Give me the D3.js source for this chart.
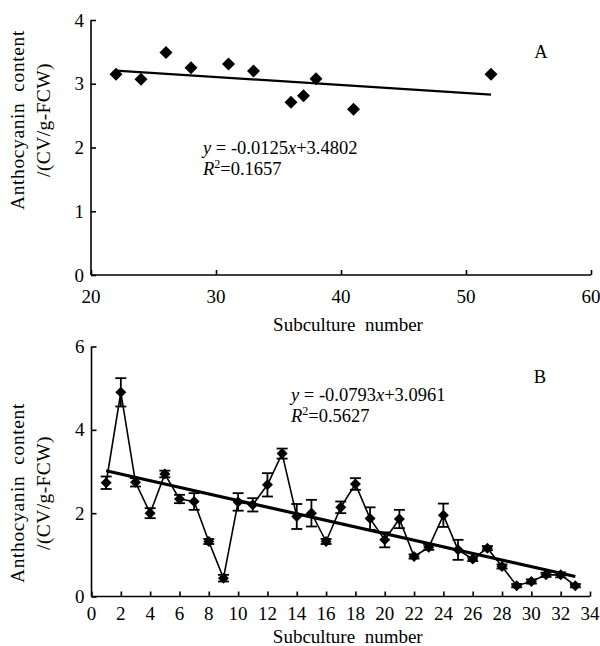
<!DOCTYPE html>
<html>
<head>
<meta charset="utf-8">
<script src="https://cdn.jsdelivr.net/npm/d3@7"></script>
<style>
  body { margin: 0; background: #fff; }
  svg text { font-family: "Liberation Serif", "Times New Roman", serif; fill: #000; }
</style>
</head>
<body>
<svg id="chart" width="600" height="646"></svg>
<script>
// panel A
var subA = [22, 24, 26, 28, 31, 33, 36, 37, 38, 41, 52];
var antA = [3.15, 3.07, 3.49, 3.25, 3.31, 3.20, 2.71, 2.81, 3.08, 2.60, 3.15];
var ticksAx = [20, 30, 40, 50, 60];
var ticksAy = [0, 1, 2, 3, 4];
var fitA = {slope: -0.0125, icpt: 3.4802, from: 22, to: 52};

// panel B
var subB = [1, 2, 3, 4, 5, 6, 7, 8, 9, 10, 11, 12, 13, 14, 15, 16, 17,
            18, 19, 20, 21, 22, 23, 24, 25, 26, 27, 28, 29, 30, 31, 32, 33];
var antB = [2.73, 4.90, 2.74, 2.00, 2.94, 2.34, 2.28, 1.32, 0.44, 2.27, 2.20, 2.68, 3.43, 1.92, 2.00, 1.32, 2.14,
            2.70, 1.87, 1.36, 1.86, 0.96, 1.18, 1.95, 1.12, 0.90, 1.16, 0.72, 0.26, 0.36, 0.52, 0.52, 0.26];
var errB = [0.15, 0.34, 0.10, 0.12, 0.08, 0.10, 0.20, 0.06, 0.08, 0.21, 0.16, 0.28, 0.12, 0.30, 0.32, 0.06, 0.14,
            0.14, 0.27, 0.18, 0.22, 0.05, 0.06, 0.28, 0.24, 0.05, 0.05, 0.05, 0.04, 0.05, 0.05, 0.06, 0.04];
var ticksBx = d3.range(0, 35, 2);
var ticksBy = [0, 2, 4, 6];
var fitB = {slope: -0.0793, icpt: 3.0961, from: 1, to: 33};

var svg = d3.select("#chart");

function panel(o) {
  var x = d3.scaleLinear().domain(o.xdom).range([o.left, o.right]);
  var y = d3.scaleLinear().domain(o.ydom).range([o.bottom, o.top]);
  var g = svg.append("g");

  // axes with inside ticks; labels drawn separately below
  g.append("g")
    .attr("transform", "translate(0," + o.bottom + ")")
    .call(d3.axisTop(x).tickValues(o.xticks).tickSize(5).tickFormat(""))
    .call(function(s) { s.select(".domain").attr("d", "M" + o.left + ",0H" + o.right); });
  g.append("g")
    .attr("transform", "translate(" + o.left + ",0)")
    .call(d3.axisRight(y).tickValues(o.yticks).tickSize(5).tickFormat(""))
    .call(function(s) { s.select(".domain").attr("d", "M0," + o.top + "V" + o.bottom); });
  g.selectAll(".domain, .tick line").attr("stroke", "#000").attr("stroke-width", 1.6);

  g.selectAll(".xl").data(o.xticks).enter().append("text")
    .attr("x", function(d) { return x(d); })
    .attr("y", o.bottom + o.xlab)
    .attr("text-anchor", "middle")
    .style("font-size", "19px")
    .text(function(d) { return d; });
  g.selectAll(".yl").data(o.yticks).enter().append("text")
    .attr("x", o.left - 7)
    .attr("y", function(d) { return y(d) + 6.5; })
    .attr("text-anchor", "end")
    .style("font-size", "19px")
    .text(function(d) { return d; });

  g.append("text")
    .attr("x", (o.left + o.right) / 2 + 7)
    .attr("y", o.bottom + o.xtitle)
    .attr("text-anchor", "middle")
    .style("font-size", "19px")
    .style("white-space", "pre")
    .text("Subculture  number");

  var yt = g.append("g").attr("transform", "translate(0," + o.ytitleY + ") rotate(-90)");
  yt.append("text").attr("x", 0).attr("y", 24).attr("text-anchor", "middle")
    .style("font-size", "19.5px").style("letter-spacing", "0.6px").style("white-space", "pre")
    .text("Anthocyanin  content");
  yt.append("text").attr("x", 0).attr("y", 50).attr("text-anchor", "middle")
    .style("font-size", "19.5px").style("letter-spacing", "0.4px").text("/(CV/g-FCW)");

  return {x: x, y: y, g: g};
}

function diamonds(p, xs, ys, r) {
  p.g.selectAll(null).data(xs).enter().append("path")
    .attr("d", function(d, i) {
      var cx = p.x(d), cy = p.y(ys[i]);
      return "M" + cx + "," + (cy - r) + "L" + (cx + r) + "," + cy + "L" + cx + "," + (cy + r) + "L" + (cx - r) + "," + cy + "Z";
    })
    .attr("fill", "#000");
}

function trend(p, f, w) {
  p.g.append("line")
    .attr("x1", p.x(f.from)).attr("y1", p.y(f.slope * f.from + f.icpt))
    .attr("x2", p.x(f.to)).attr("y2", p.y(f.slope * f.to + f.icpt))
    .attr("stroke", "#000").attr("stroke-width", w);
}

function equation(p, px, py, f, r2) {
  var t = p.g.append("text").attr("x", px).attr("y", py).style("font-size", "18.5px");
  t.append("tspan").style("font-style", "italic").text("y");
  t.append("tspan").text(" = " + f.slope);
  t.append("tspan").style("font-style", "italic").text("x");
  t.append("tspan").text("+" + f.icpt.toFixed(4));
  var t2 = p.g.append("text").attr("x", px).attr("y", py + 21).style("font-size", "18.5px");
  t2.append("tspan").style("font-style", "italic").text("R");
  t2.append("tspan").attr("dy", -7).style("font-size", "12px").text("2");
  t2.append("tspan").attr("dy", 7).text("=" + r2);
}

// ---- panel A
var pa = panel({xdom: [20, 60], ydom: [0, 4], left: 91, right: 591, top: 20, bottom: 275,
                xticks: ticksAx, yticks: ticksAy, ytitleY: 120, xlab: 28, xtitle: 56});
trend(pa, fitA, 2.2);
diamonds(pa, subA, antA, 6.5);
equation(pa, 203, 154, fitA, "0.1657");
pa.g.append("text").attr("x", 541).attr("y", 58).attr("text-anchor", "middle")
  .style("font-size", "18.5px").text("A");

// ---- panel B
var pb = panel({xdom: [0, 34], ydom: [0, 6], left: 91.5, right: 590, top: 346.5, bottom: 596.5,
                xticks: ticksBx, yticks: ticksBy, ytitleY: 493, xlab: 23.5, xtitle: 46.5});

pb.g.append("path")
  .datum(subB)
  .attr("fill", "none").attr("stroke", "#000").attr("stroke-width", 1.6)
  .attr("d", d3.line().x(function(d) { return pb.x(d); }).y(function(d, i) { return pb.y(antB[i]); }));

var eb = pb.g.selectAll(null).data(subB).enter().append("g")
  .attr("stroke", "#000").attr("stroke-width", 1.8);
eb.append("line")
  .attr("x1", function(d) { return pb.x(d); }).attr("x2", function(d) { return pb.x(d); })
  .attr("y1", function(d, i) { return pb.y(antB[i] - errB[i]); })
  .attr("y2", function(d, i) { return pb.y(antB[i] + errB[i]); });
eb.append("line")
  .attr("x1", function(d) { return pb.x(d) - 5.5; }).attr("x2", function(d) { return pb.x(d) + 5.5; })
  .attr("y1", function(d, i) { return pb.y(antB[i] + errB[i]); })
  .attr("y2", function(d, i) { return pb.y(antB[i] + errB[i]); });
eb.append("line")
  .attr("x1", function(d) { return pb.x(d) - 5.5; }).attr("x2", function(d) { return pb.x(d) + 5.5; })
  .attr("y1", function(d, i) { return pb.y(antB[i] - errB[i]); })
  .attr("y2", function(d, i) { return pb.y(antB[i] - errB[i]); });

trend(pb, fitB, 3.2);
diamonds(pb, subB, antB, 5.5);
equation(pb, 291, 401, fitB, "0.5627");
pb.g.append("text").attr("x", 540).attr("y", 383).attr("text-anchor", "middle")
  .style("font-size", "18.5px").text("B");
</script>
</body>
</html>
